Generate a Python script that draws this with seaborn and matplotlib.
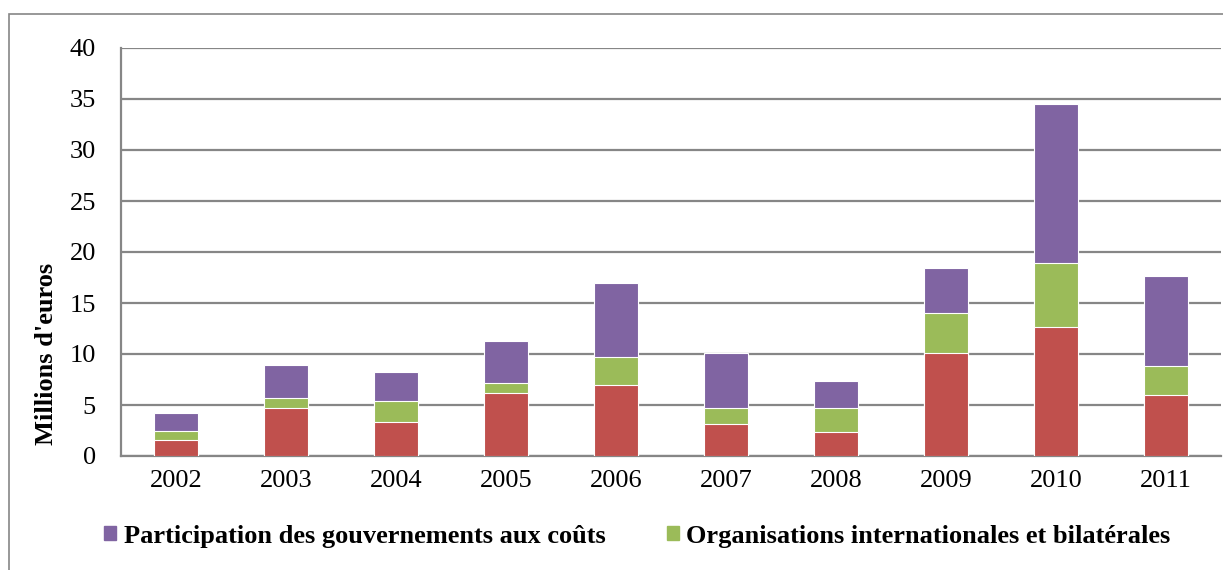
import numpy as np
import pandas as pd
import matplotlib
matplotlib.use("Agg")
import matplotlib.pyplot as plt
import matplotlib.patches as mpatches
import seaborn as sns

# Données (millions d'euros)
annees = ["2002", "2003", "2004", "2005", "2006", "2007", "2008", "2009", "2010", "2011"]
rouge = [1.6, 4.7, 3.3, 6.15, 7.0, 3.1, 2.4, 10.1, 12.6, 5.95]
vert = [0.9, 1.0, 2.1, 1.05, 2.7, 1.6, 2.3, 3.9, 6.3, 2.85]
violet = [1.75, 3.25, 2.8, 4.1, 7.25, 5.4, 2.7, 4.4, 15.65, 8.85]

lbl_violet = "Participation des gouvernements aux coûts"
lbl_vert = "Organisations internationales et bilatérales"

c_rouge, c_vert, c_violet = "#C0504D", "#9BBB59", "#8064A2"
gris = "#868686"

df = pd.DataFrame({"annee": annees, "rouge": rouge, "vert": vert, "violet": violet})
df["cum_vert"] = df["rouge"] + df["vert"]
df["cum_violet"] = df["cum_vert"] + df["violet"]

sns.set_style("white")
plt.rcParams["font.family"] = ["Liberation Serif", "DejaVu Serif"]
plt.rcParams["text.color"] = "black"
plt.rcParams["axes.labelcolor"] = "black"
plt.rcParams["xtick.labelcolor"] = "black"
plt.rcParams["ytick.labelcolor"] = "black"

fig = plt.figure(figsize=(12.23, 5.70), dpi=100)
ax = fig.add_axes([121 / 1223, 114 / 570, 1100 / 1223, 408 / 570])

# barres empilées : on superpose les cumuls
for col, couleur in [("cum_violet", c_violet), ("cum_vert", c_vert), ("rouge", c_rouge)]:
    sns.barplot(data=df, x="annee", y=col, color=couleur, width=0.4, ax=ax,
                saturation=1, edgecolor="white", linewidth=0.8, zorder=3)

ax.set_xlim(-0.5, 9.5)
ax.set_ylim(0, 40)
ax.set_yticks(range(0, 41, 5))
ax.yaxis.grid(True, color=gris, linewidth=1.6, zorder=0)
ax.set_axisbelow(True)

for s in ["top", "right"]:
    ax.spines[s].set_visible(False)
for s in ["left", "bottom"]:
    ax.spines[s].set_color(gris)
    ax.spines[s].set_linewidth(1.6)

ax.set_xticks(range(10))
ax.set_xticklabels(annees)
ax.set_xticks(np.arange(-0.5, 10, 1), minor=True)
ax.tick_params(axis="x", which="major", length=0, labelsize=19, pad=10)
ax.tick_params(axis="x", which="minor", length=6, width=1.6, color=gris)
ax.tick_params(axis="y", length=6, width=1.6, color=gris, labelsize=19, pad=12)
ax.set_xlabel("")
ax.set_ylabel("Millions d'euros", fontsize=19, fontweight="bold")
ax.yaxis.set_label_coords(-0.057, 0.25)

handles = [mpatches.Patch(color=c_violet, label=lbl_violet),
           mpatches.Patch(color=c_vert, label=lbl_vert)]
fig.legend(handles=handles, loc="center left", bbox_to_anchor=(86 / 1223, 34 / 570),
           ncol=2, frameon=False, handlelength=0.45, handleheight=0.45, handletextpad=0.3,
           columnspacing=2.3, borderpad=0.2, prop={"weight": "bold", "size": 19})

# cadre extérieur
fig.patches.append(mpatches.Rectangle((9 / 1223, -0.01), 1.0, 0.985, transform=fig.transFigure,
                                      fill=False, edgecolor=gris, linewidth=1.2))

fig.savefig("out.png", dpi=100)
